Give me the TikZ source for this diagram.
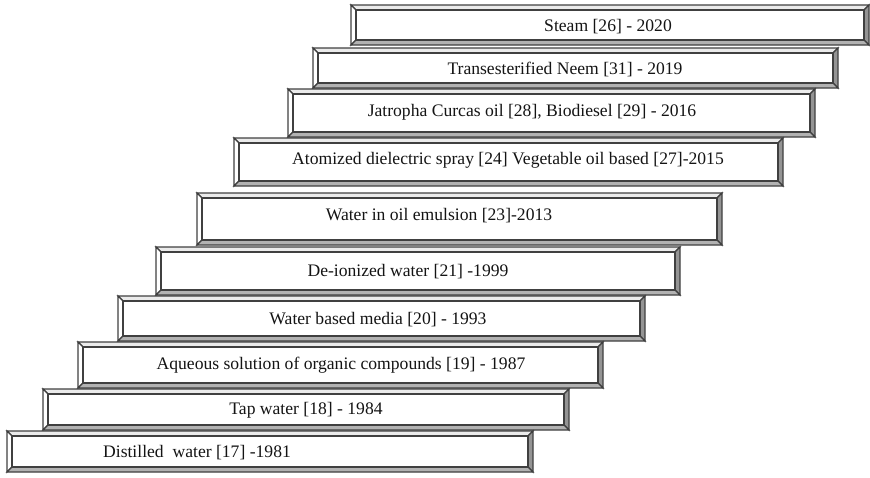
\documentclass[tikz,border=0pt]{standalone}
\usepackage{fontspec}
\setmainfont{Liberation Serif}
\begin{document}
\begin{tikzpicture}[x=1pt,y=-1pt,
  edge/.style={draw=black!75,line width=1.1pt,line join=miter},
  facetop/.style={edge,fill=black!8},
  faceleft/.style={edge,fill=white},
  faceright/.style={edge,fill=black!42},
  facebottom/.style={edge,fill=black!30},
  faceinner/.style={edge,fill=white},
  steplabel/.style={inner sep=0pt,yshift=-1.5pt,font=\fontsize{17.6}{20}\selectfont,text=black!92}]
% bevelled bar: #1,#2 top-left corner, #3,#4 bottom-right corner
\newcommand\bevelbar[4]{%
  \path[facetop] (#1,#2) -- (#3,#2) -- ({#3-5},{#2+5}) -- ({#1+5},{#2+5}) -- cycle;
  \path[faceleft] (#1,#2) -- ({#1+5},{#2+5}) -- ({#1+5},{#4-5}) -- (#1,#4) -- cycle;
  \path[faceright] (#3,#2) -- (#3,#4) -- ({#3-5},{#4-5}) -- ({#3-5},{#2+5}) -- cycle;
  \path[facebottom] (#1,#4) -- ({#1+5},{#4-5}) -- ({#3-5},{#4-5}) -- (#3,#4) -- cycle;
  \path[faceinner] ({#1+5},{#2+5}) rectangle ({#3-5},{#4-5});
}
\useasboundingbox (0,0) rectangle (870,477);

\bevelbar{351}{5}{869}{45}
\node[steplabel] (s2020) at (608,25) {Steam [26] - 2020};

\bevelbar{313}{48}{838}{88}
\node[steplabel] (s2019) at (565,68) {Transesterified Neem [31] - 2019};

\bevelbar{288}{89}{815}{137}
\node[steplabel] (s2016) at (532,111) {Jatropha Curcas oil [28], Biodiesel [29] - 2016};

\bevelbar{234}{138}{783}{186}
\node[steplabel] (s2015) at (508,159) {Atomized dielectric spray [24] Vegetable oil based [27]-2015};

\bevelbar{197}{193}{722}{245}
\node[steplabel] (s2013) at (439,214) {Water in oil emulsion [23]-2013};

\bevelbar{156}{247}{680}{295}
\node[steplabel] (s1999) at (408,270) {De-ionized water [21] -1999};

\bevelbar{118}{296}{645}{341}
\node[steplabel] (s1993) at (378,318) {Water based media [20] - 1993};

\bevelbar{78}{342}{603}{388}
\node[steplabel] (s1987) at (341,364) {Aqueous solution of organic compounds [19] - 1987};

\bevelbar{43}{389}{569}{430}
\node[steplabel] (s1984) at (306,409) {Tap water [18] - 1984};

\bevelbar{7}{431}{533}{472}
\node[steplabel] (s1981) at (197,451) {Distilled\ \ water [17] -1981};
\end{tikzpicture}
\end{document}
